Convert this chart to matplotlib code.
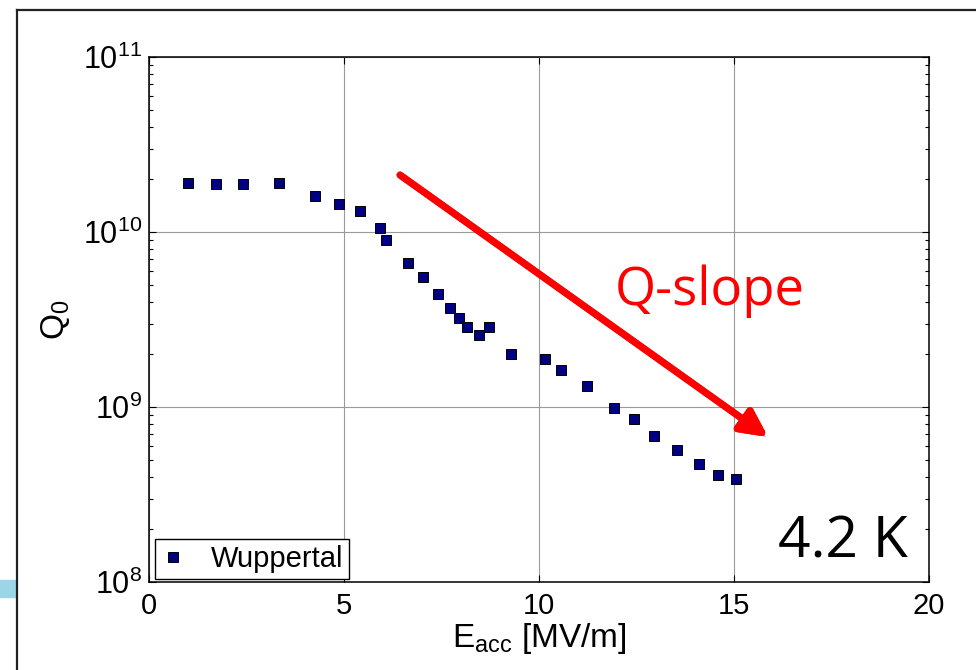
import matplotlib
matplotlib.use('Agg')
import matplotlib.pyplot as plt
import matplotlib.patheffects as pe
from matplotlib.lines import Line2D
from matplotlib.patches import Rectangle

# data
e_acc = [1.0, 1.72, 2.41, 3.33, 4.26, 4.87, 5.41, 5.92, 6.08, 6.64, 7.03, 7.41,
         7.72, 7.95, 8.15, 8.46, 8.72, 9.28, 10.15, 10.56, 11.23, 11.92, 12.44,
         12.95, 13.54, 14.10, 14.59, 15.05]
q0 = [1.9e10, 1.88e10, 1.88e10, 1.9e10, 1.6e10, 1.45e10, 1.32e10, 1.05e10,
      9.0e9, 6.65e9, 5.53e9, 4.43e9, 3.68e9, 3.23e9, 2.87e9, 2.58e9, 2.87e9,
      2.01e9, 1.88e9, 1.63e9, 1.32e9, 9.87e8, 8.5e8, 6.8e8, 5.7e8, 4.7e8,
      4.1e8, 3.9e8]
x_ticks = [0, 5, 10, 15, 20]
series_name = 'Wuppertal'

plt.rcParams['font.family'] = ['Liberation Sans', 'DejaVu Sans']
plt.rcParams['mathtext.fontset'] = 'custom'
plt.rcParams['mathtext.rm'] = 'Liberation Sans'
plt.rcParams['mathtext.it'] = 'Liberation Sans:italic'

W, H = 976, 670
fig = plt.figure(figsize=(W / 100, H / 100), dpi=100)
ax = fig.add_axes([149 / W, 1 - 582 / H, 780 / W, 525 / H])

ax.plot(e_acc, q0, 's', ms=7.5, mfc='#000080', mec='black', mew=0.7,
        label=series_name)

ax.set_yscale('log')
ax.set_xlim(0, 20)
ax.set_ylim(1e8, 1e11)
ax.set_xticks(x_ticks)
ax.grid(True, which='major', color='#9a9a9a', lw=0.8)
ax.tick_params(which='both', direction='in', top=True, right=True,
               labelsize=21, width=0.8)
ax.tick_params(axis='y', labelsize=22)
ax.tick_params(which='major', length=5)
ax.tick_params(which='minor', length=3)
ax.tick_params(axis='y', pad=5)
ax.tick_params(axis='x', pad=7)
for s in ax.spines.values():
    s.set_linewidth(1.1)

ax.set_xlabel(r'E$_{\mathregular{acc}}$ [MV/m]', fontsize=24, labelpad=1)
ax.set_ylabel(r'$\mathregular{Q_0}$', fontsize=24, labelpad=8)

leg = ax.legend(loc='lower left', bbox_to_anchor=(0.008, 0.006),
                borderaxespad=0, fontsize=21, fancybox=False, framealpha=1,
                edgecolor='black', handlelength=0.8, handletextpad=0.9,
                borderpad=0.2, markerscale=0.9)
leg.get_frame().set_linewidth(1.0)

# red arrow with shadow
ann = fig.add_artist(plt.annotate('', xy=(768 / W, 1 - 437 / H),
                                  xytext=(400 / W, 1 - 175 / H),
                                  xycoords='figure fraction',
                                  textcoords='figure fraction',
                                  arrowprops=dict(arrowstyle='-|>', color='red',
                                                  lw=5, mutation_scale=40,
                                                  shrinkA=0, shrinkB=0)))
ann.arrow_patch.set_path_effects([
    pe.SimplePatchShadow(offset=(3, -3), shadow_rgbFace='gray', alpha=0.5),
    pe.Normal()])

fig.text(615 / W, 1 - 305 / H, 'Q-slope', color='red', fontsize=38,
         family='Open Sans', ha='left', va='baseline')
fig.text(778 / W, 1 - 558 / H, '4.2 K', color='black', fontsize=41,
         family='Open Sans', ha='left', va='baseline')

# slide frame bits
fig.add_artist(Line2D([17 / W, 17 / W], [0, 1 - 10 / H], color='#222222',
                      lw=1.6, transform=fig.transFigure))
fig.add_artist(Line2D([17 / W, 1], [1 - 10 / H, 1 - 10 / H], color='#222222',
                      lw=1.6, transform=fig.transFigure))
fig.add_artist(Rectangle((0, 1 - 597 / H), 16 / W, 17 / H, color='#9dd5e8',
                         transform=fig.transFigure))

fig.savefig('out.png', dpi=100)
